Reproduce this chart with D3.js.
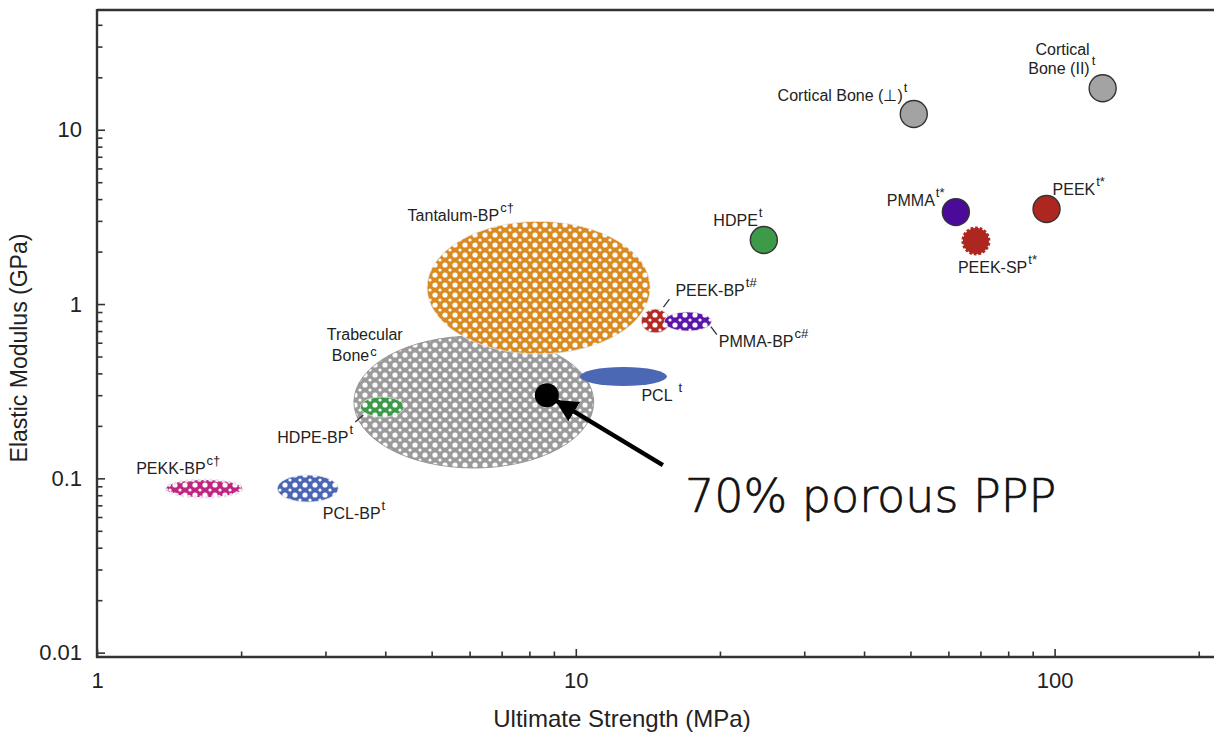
<!DOCTYPE html>
<html>
<head>
<meta charset="utf-8">
<script src="https://cdn.jsdelivr.net/npm/d3@7"></script>
<style>
  body { margin: 0; background: #fff; }
  .chart text { font-family: 'Liberation Sans', Arial, sans-serif; fill: #222; }
  .axis path { display: none; }
  .axis line { stroke: #333; stroke-width: 1.6; }
</style>
</head>
<body>
<div class="chart"></div>
<script>
// materials drawn as single points (strength MPa, modulus GPa)
const pointNames = ['Cortical Bone (⊥)', 'Cortical Bone (II)', 'HDPE', 'PMMA', 'PEEK', 'PEEK-SP'];
const pointStrength = [50.8, 126, 24.7, 62.2, 96.2, 68.5];
const pointModulus = [12.3, 17.3, 2.33, 3.37, 3.51, 2.3];

// materials drawn as ranges (ellipses)
const rangeNames = ['Trabecular Bone', 'Tantalum-BP', 'PCL', 'HDPE-BP', 'PEKK-BP', 'PCL-BP', 'PEEK-BP', 'PMMA-BP'];
const strengthMin = [3.44, 4.89, 10.2, 3.55, 1.395, 2.38, 13.7, 15.3];
const strengthMax = [10.9, 14.3, 15.5, 4.38, 2.01, 3.19, 15.7, 19.2];
const modulusMin = [0.1146, 0.517, 0.339, 0.225, 0.078, 0.0731, 0.682, 0.70];
const modulusMax = [0.655, 2.98, 0.435, 0.293, 0.0978, 0.1045, 0.936, 0.90];

// the 70% porous PPP sample
const pppStrength = 8.7;
const pppModulus = 0.30;

const xTicks = [1, 10, 100];
const yTicks = [0.01, 0.1, 1, 10];

const width = 1214;
const height = 735;

const colors = {
  'Cortical Bone (⊥)': '#a3a3a3',
  'Cortical Bone (II)': '#a3a3a3',
  'HDPE': '#3d9a48',
  'PMMA': '#4c0a98',
  'PEEK': '#ad2620',
  'PEEK-SP': '#ad2620',
  'Trabecular Bone': '#9b9b9b',
  'Tantalum-BP': '#d98b22',
  'PCL': '#4a68b3',
  'HDPE-BP': '#3d9a48',
  'PEKK-BP': '#c02582',
  'PCL-BP': '#4a66b4',
  'PEEK-BP': '#b32a26',
  'PMMA-BP': '#5c14aa'
};

// label placement relative to each marker centre (px)
const labels = {
  'Cortical Bone (⊥)': { lines: ['Cortical Bone (⊥)'], sup: 't', dx: -11, dy: -13, anchor: 'end' },
  'Cortical Bone (II)': { lines: ['Cortical', 'Bone (II)'], sup: 't', dx: -13, dy: -33, anchor: 'end', supAt: 'mid' },
  'HDPE': { lines: ['HDPE'], sup: 't', dx: -6, dy: -14, anchor: 'end' },
  'PMMA': { lines: ['PMMA'], sup: 't*', dx: -21, dy: -6, anchor: 'end' },
  'PEEK': { lines: ['PEEK'], sup: 't*', dx: 6, dy: -14, anchor: 'start' },
  'PEEK-SP': { lines: ['PEEK-SP'], sup: 't*', dx: -18, dy: 32, anchor: 'start' },
  'Trabecular Bone': { lines: ['Trabecular', 'Bone'], sup: 'c', dx: -147, dy: -62, anchor: 'start', indent: 5, lineGap: 21, supRise: -5 },
  'Tantalum-BP': { lines: ['Tantalum-BP'], sup: 'c†', dx: -131, dy: -67, anchor: 'start' },
  'PCL': { lines: ['PCL'], sup: 't', dx: 18, dy: 25, anchor: 'start', gap: 6 },
  'HDPE-BP': { lines: ['HDPE-BP'], sup: 't', dx: -105, dy: 36, anchor: 'start', leader: [[-27, 15], [-19, 8]] },
  'PEKK-BP': { lines: ['PEKK-BP'], sup: 'c†', dx: -68, dy: -15, anchor: 'start' },
  'PCL-BP': { lines: ['PCL-BP'], sup: 't', dx: 15, dy: 30, anchor: 'start' },
  'PEEK-BP': { lines: ['PEEK-BP'], sup: 't#', dx: 20, dy: -25, anchor: 'start', leader: [[8, -14], [14, -22]] },
  'PMMA-BP': { lines: ['PMMA-BP'], sup: 'c#', dx: 31, dy: 25, anchor: 'start', leader: [[23, 5], [29, 13]] }
};

const x = d3.scaleLog().domain([1, Math.pow(10, 2.335)]).range([97, 1215]);
const y = d3.scaleLog().domain([Math.pow(10, -2.025), Math.pow(10, 1.687)]).range([657, 10]);

const svg = d3
  .select('.chart')
  .append('svg')
  .attr('width', width)
  .attr('height', height);

// dotted fill patterns for the porous materials
const defs = svg.append('defs');
rangeNames.forEach(function(name, i) {
  if (name === 'PCL') return;
  const p = defs
    .append('pattern')
    .attr('id', 'pat' + i)
    .attr('patternUnits', 'userSpaceOnUse')
    .attr('width', 10)
    .attr('height', 10);
  p.append('rect').attr('width', 10).attr('height', 10).attr('fill', colors[name]);
  p.append('circle').attr('cx', 5).attr('cy', 5).attr('r', 2.6).attr('fill', '#fff');
  [[0, 0], [10, 0], [0, 10], [10, 10]].forEach(function(c) {
    p.append('circle').attr('cx', c[0]).attr('cy', c[1]).attr('r', 1.6).attr('fill', '#fff');
  });
});

defs
  .append('marker')
  .attr('id', 'arrow')
  .attr('viewBox', '0 0 10 10')
  .attr('refX', 9)
  .attr('refY', 5)
  .attr('markerWidth', 5)
  .attr('markerHeight', 5)
  .attr('orient', 'auto')
  .append('path')
  .attr('d', 'M0,0 L10,5 L0,10 Z')
  .attr('fill', '#000');

// frame
svg.append('line').attr('x1', 97).attr('x2', 1214).attr('y1', 10).attr('y2', 10)
  .attr('stroke', '#333').attr('stroke-width', 2.4);

// minor ticks
const minorX = [];
const minorY = [];
[1, 10, 100].forEach(function(d) {
  for (let k = 2; k <= 9; k++) if (d * k <= x.domain()[1]) minorX.push(d * k);
});
[0.01, 0.1, 1, 10].forEach(function(d) {
  for (let k = 2; k <= 9; k++) if (d * k <= y.domain()[1]) minorY.push(d * k);
});

svg.append('g').attr('class', 'axis').attr('transform', 'translate(0,657)')
  .call(d3.axisBottom(x).tickValues(minorX).tickSize(-5.5).tickFormat(''));
svg.append('g').attr('class', 'axis').attr('transform', 'translate(97,0)')
  .call(d3.axisLeft(y).tickValues(minorY).tickSize(-5.5).tickFormat(''));

svg.append('g').attr('class', 'axis').attr('transform', 'translate(0,657)')
  .call(d3.axisBottom(x).tickValues(xTicks).tickSize(-8).tickPadding(15).tickFormat(d3.format('')))
  .selectAll('text').attr('font-size', 22).attr('fill', '#222');
svg.append('g').attr('class', 'axis').attr('transform', 'translate(97,0)')
  .call(d3.axisLeft(y).tickValues(yTicks).tickSize(-8).tickPadding(15).tickFormat(d3.format('')))
  .selectAll('text').attr('font-size', 22).attr('fill', '#222');

svg.append('line').attr('x1', 97).attr('x2', 97).attr('y1', 9).attr('y2', 658)
  .attr('stroke', '#333').attr('stroke-width', 2.4);
svg.append('line').attr('x1', 96).attr('x2', 1214).attr('y1', 657).attr('y2', 657)
  .attr('stroke', '#333').attr('stroke-width', 2.4);

// axis titles
svg.append('text')
  .attr('x', 622)
  .attr('y', 727)
  .attr('text-anchor', 'middle')
  .attr('font-size', 24)
  .text('Ultimate Strength (MPa)');

svg.append('text')
  .attr('transform', 'translate(27,348) rotate(-90)')
  .attr('text-anchor', 'middle')
  .attr('font-size', 23)
  .text('Elastic Modulus (GPa)');

// ellipses for ranges
const ranges = rangeNames.map(function(name, i) {
  const x0 = x(strengthMin[i]), x1 = x(strengthMax[i]);
  const y0 = y(modulusMax[i]), y1 = y(modulusMin[i]);
  return { name: name, i: i, cx: (x0 + x1) / 2, cy: (y0 + y1) / 2, rx: (x1 - x0) / 2, ry: (y1 - y0) / 2 };
});

svg
  .append('g')
  .selectAll('ellipse')
  .data(ranges)
  .enter()
  .append('ellipse')
  .attr('cx', d => d.cx)
  .attr('cy', d => d.cy)
  .attr('rx', d => d.rx)
  .attr('ry', d => d.ry)
  .attr('fill', d => (d.name === 'PCL' ? colors[d.name] : 'url(#pat' + d.i + ')'))
  .attr('stroke', d => (d.name === 'Trabecular Bone' ? '#8a8a8a' : d.name === 'PCL' ? 'none' : '#e6e6e6'))
  .attr('stroke-width', d => (d.name === 'PEKK-BP' ? 3 : 0.8))
  .attr('stroke-dasharray', d => (d.name === 'PEKK-BP' ? '3,3' : null));

// point materials
const points = pointNames.map(function(name, i) {
  return { name: name, cx: x(pointStrength[i]), cy: y(pointModulus[i]) };
});

svg
  .append('g')
  .selectAll('circle')
  .data(points)
  .enter()
  .append('circle')
  .attr('cx', d => d.cx)
  .attr('cy', d => d.cy)
  .attr('r', d => (d.name === 'PEEK-SP' ? 14.5 : 13.5))
  .attr('fill', d => colors[d.name])
  .attr('stroke', d => (d.name === 'PEEK-SP' ? '#fff' : '#333'))
  .attr('stroke-width', d => (d.name === 'PEEK-SP' ? 3 : 1.4))
  .attr('stroke-dasharray', d => (d.name === 'PEEK-SP' ? '2,3' : null));

// labels
const all = points.concat(ranges);
all.forEach(function(d) {
  const l = labels[d.name];
  const tx = d.cx + l.dx;
  const ty = d.cy + l.dy;
  const gap = l.lineGap || 19;
  let last = null;
  l.lines.forEach(function(line, k) {
    last = svg
      .append('text')
      .attr('x', tx + (k > 0 && l.indent ? l.indent : 0))
      .attr('y', ty + k * gap)
      .attr('text-anchor', l.anchor)
      .attr('font-size', 16)
      .text(line);
  });
  if (l.supAt === 'mid') {
    svg.append('text')
      .attr('x', tx + 2)
      .attr('y', ty + 10)
      .attr('font-size', 13)
      .text(l.sup);
  } else if (l.anchor === 'end') {
    svg.append('text')
      .attr('x', tx + 1)
      .attr('y', ty + (l.lines.length - 1) * gap - 9)
      .attr('font-size', 13)
      .text(l.sup);
  } else {
    last.append('tspan')
      .attr('dx', l.gap || 1)
      .attr('dy', l.supRise || -9)
      .attr('font-size', 13)
      .text(l.sup);
  }
  if (l.leader) {
    svg.append('line')
      .attr('x1', d.cx + l.leader[0][0]).attr('y1', d.cy + l.leader[0][1])
      .attr('x2', d.cx + l.leader[1][0]).attr('y2', d.cy + l.leader[1][1])
      .attr('stroke', '#333').attr('stroke-width', 1.3);
  }
});

// 70% porous PPP marker and arrow
const px = x(pppStrength), py = y(pppModulus);
svg.append('circle').attr('cx', px).attr('cy', py).attr('r', 12).attr('fill', '#000');

svg.append('line')
  .attr('x1', x(15.2))
  .attr('y1', y(0.119))
  .attr('x2', px + 10)
  .attr('y2', py + 6)
  .attr('stroke', '#000')
  .attr('stroke-width', 4.5)
  .attr('marker-end', 'url(#arrow)');

svg.append('text')
  .attr('x', 685)
  .attr('y', 512)
  .style('font-family', "'DejaVu Sans', sans-serif")
  .attr('font-weight', 200)
  .attr('font-size', 46)
  .style('fill', '#111')
  .style('stroke', '#111')
  .style('stroke-width', 0.7)
  .text('70% porous PPP');
</script>
</body>
</html>
